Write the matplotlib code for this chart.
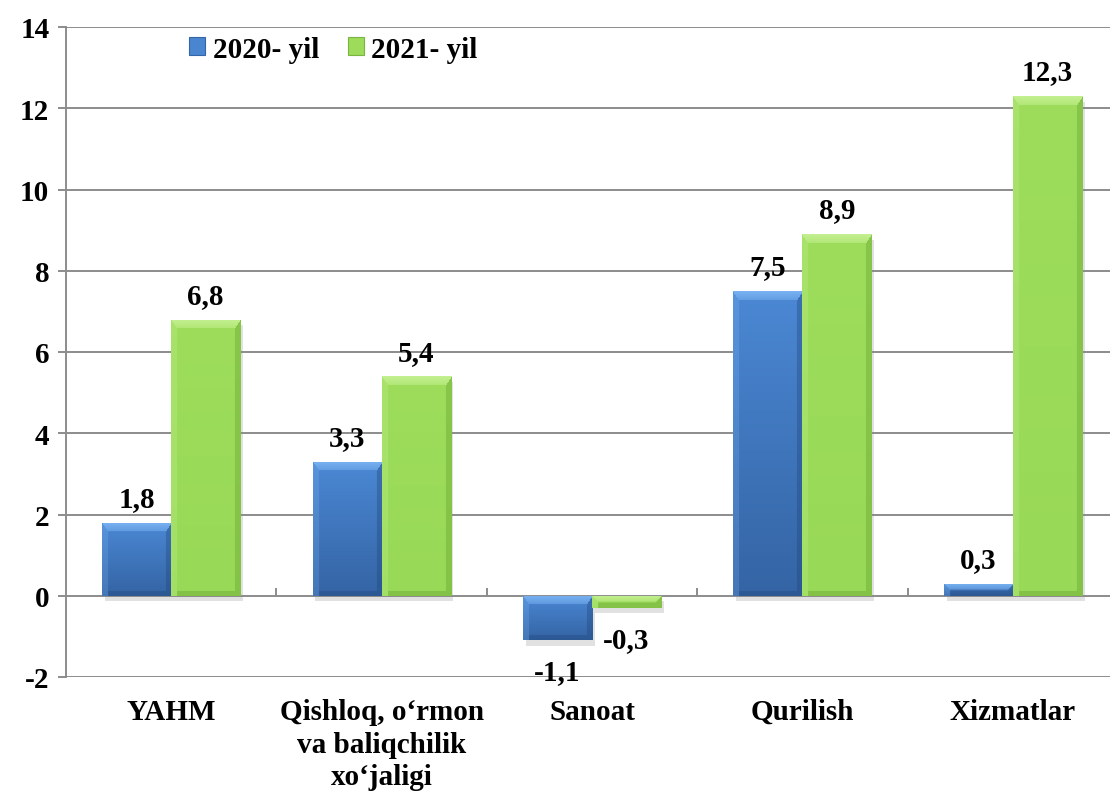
import numpy as np
import matplotlib
matplotlib.use("Agg")
import matplotlib.pyplot as plt
import matplotlib.patheffects as pe
from matplotlib.patches import Patch
from matplotlib.colors import to_rgb
from matplotlib import font_manager as fm
from matplotlib.font_manager import FontProperties

categories = ["YAHM", "Qishloq, o\u2018rmon\nva baliqchilik\nxo\u2018jaligi", "Sanoat", "Qurilish", "Xizmatlar"]
series_names = ["2020- yil", "2021- yil"]
values_2020 = [1.8, 3.3, -1.1, 7.5, 0.3]
values_2021 = [6.8, 5.4, -0.3, 8.9, 12.3]
value_labels_2020 = ["1,8", "3,3", "-1,1", "7,5", "0,3"]
value_labels_2021 = ["6,8", "5,4", "-0,3", "8,9", "12,3"]
yticks = [-2, 0, 2, 4, 6, 8, 10, 12, 14]

FS = 21
DPI = 100

def find_serif_bold():
    for fam in ["Liberation Serif", "FreeSerif", "DejaVu Serif"]:
        cands = [f for f in fm.fontManager.ttflist
                 if f.name == fam and f.style == 'normal'
                 and (f.weight in (700, 'bold') or str(f.weight) == '700')]
        if cands:
            return cands[0].fname
    return None

path = find_serif_bold()
if path:
    fp = FontProperties(fname=path, size=FS)
else:
    fp = FontProperties(family=['Liberation Serif', 'DejaVu Serif'], weight='bold', size=FS)

fig = plt.figure(figsize=(11.1, 8.03), dpi=DPI)
ax = fig.add_axes([66/1110, 125/803, 1044/1110, 650/803])
W = 1044/210.4
ax.set_xlim(-0.5, -0.5 + W)
ax.set_ylim(-2, 14)

grid_c = "#8c8c8c"
ax.set_yticks(yticks)
ax.set_yticklabels([str(v) for v in yticks], fontproperties=fp)
for y in yticks:
    ax.axhline(y, color=grid_c, lw=1.4, zorder=0.5)
for s in ["top", "right", "bottom"]:
    ax.spines[s].set_visible(False)
ax.spines["left"].set_color(grid_c)
ax.spines["left"].set_linewidth(1.4)
ax.tick_params(axis='y', length=6, width=1.4, color=grid_c, pad=6)
ax.tick_params(axis='x', length=0, labelbottom=False)

x = np.arange(len(categories))
bw = 0.328

# boundary ticks on the zero line
for b in np.arange(0.5, len(categories) - 0.5, 1.0):
    ax.plot([b, b], [0, 0.17], color=grid_c, lw=1.4, zorder=0.6)

shadow = [pe.SimplePatchShadow(offset=(2, -4), shadow_rgbFace='#888888', alpha=0.25), pe.Normal()]
bars1 = ax.bar(x - bw/2, values_2020, bw, color="#4A86D0", zorder=2, path_effects=shadow, linewidth=0)
bars2 = ax.bar(x + bw/2, values_2021, bw, color="#9CDC5A", zorder=2, path_effects=shadow, linewidth=0)

fig.canvas.draw()

def bevel_image(bar, top_c, bot_c, light_c, dark_c):
    x0, y0 = bar.get_x(), bar.get_y()
    w, h = bar.get_width(), bar.get_height()
    p0 = ax.transData.transform((x0, min(y0, y0 + h)))
    p1 = ax.transData.transform((x0 + w, max(y0, y0 + h)))
    pw = max(int(round(p1[0] - p0[0])), 2)
    ph = max(int(round(p1[1] - p0[1])), 2)
    t = np.linspace(0, 1, ph)[:, None]
    base = (1 - t) * np.array(to_rgb(top_c)) + t * np.array(to_rgb(bot_c))
    img = np.repeat(base[:, None, :], pw, axis=1).reshape(ph, pw, 3).copy()
    yy, xx = np.mgrid[0:ph, 0:pw]
    bv = min(9, max(ph // 2, 1))
    sv = 6
    light = np.array(to_rgb(light_c))
    dark = np.array(to_rgb(dark_c))
    frac = np.clip(1 - yy / bv, 0, 1)
    topm = (yy < bv) & (xx >= yy * sv / bv - 0.5) & (xx <= pw - 1 - yy * sv / bv + 0.5)
    mix = (0.35 + 0.35 * frac)[..., None]
    img = np.where(topm[..., None], (1 - mix) * img + mix * light, img)
    leftm = (xx < sv) & ~topm & (yy >= xx * bv / sv)
    img[leftm] = 0.8 * img[leftm] + 0.2 * light
    rightm = (xx >= pw - sv) & ~topm & (yy >= (pw - 1 - xx) * bv / sv)
    img[rightm] = 0.65 * img[rightm] + 0.35 * dark
    botm = (yy >= ph - 5) & ~leftm & ~rightm & ~topm
    img[botm] = 0.65 * img[botm] + 0.35 * dark
    im = ax.imshow(img, extent=(x0, x0 + w, min(y0, y0 + h), max(y0, y0 + h)),
                   origin='upper', aspect='auto', zorder=2.1, interpolation='bilinear')
    im.set_clip_path(bar)

for b in bars1:
    bevel_image(b, "#4B88D4", "#3464A4", "#8CC4FF", "#1F4277")
for b in bars2:
    bevel_image(b, "#9EDD5C", "#98D957", "#D2F7A6", "#5E9A2A")

ax.set_xlim(-0.5, -0.5 + W)
ax.set_ylim(-2, 14)

def label(bars, texts):
    for b, t in zip(bars, texts):
        v = b.get_height()
        cx = b.get_x() + b.get_width()/2
        if v >= 0:
            ax.annotate(t, (cx, v), xytext=(0, 12), textcoords='offset points',
                        ha='center', va='baseline', fontproperties=fp, zorder=5)
        else:
            ax.annotate(t, (cx, v), xytext=(0, -13), textcoords='offset points',
                        ha='center', va='top', fontproperties=fp, zorder=5)

label(bars1, value_labels_2020)
label(bars2, value_labels_2021)

for xi, c in zip(x, categories):
    ax.annotate(c, (xi, 0), xycoords=('data', 'axes fraction'), xytext=(0, -15),
                textcoords='offset points', ha='center', va='top', fontproperties=fp,
                linespacing=1.27, annotation_clip=False)

handles = [Patch(facecolor="#4A86D0", edgecolor="#3565A6", linewidth=0.8),
           Patch(facecolor="#9CDC5A", edgecolor="#79B540", linewidth=0.8)]
leg = ax.legend(handles, series_names, loc='center left', bbox_to_anchor=(0.118, 0.966),
                ncol=2, frameon=False, prop=fp,
                handlelength=0.55, handleheight=0.55, handletextpad=0.25, columnspacing=1.0,
                borderpad=0, borderaxespad=0)

fig.savefig("out.png", dpi=DPI)
